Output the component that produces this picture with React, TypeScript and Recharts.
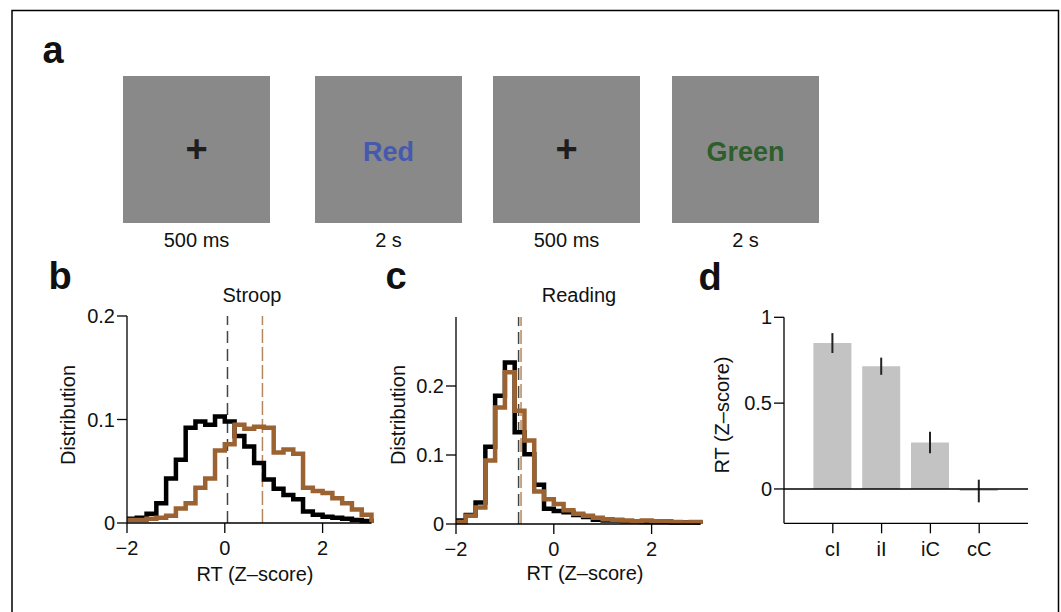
import React from 'react'
import {
  LineChart,
  Line,
  XAxis,
  YAxis,
  ReferenceLine,
  BarChart,
  Bar,
  ErrorBar,
} from 'recharts'

const FONT = "'Liberation Sans', Arial, Helvetica, sans-serif"
const BROWN = '#9c6332'
const BROWN_DASH = '#b4875d'
const FS = 20

// panel a: trial sequence
const screenText = ['+', 'Red', '+', 'Green']
const screenColor = ['#1e1e1e', '#4659ae', '#1e1e1e', '#2d5e2c']
const screenDuration = ['500 ms', '2 s', '500 ms', '2 s']

// panels b, c: RT histograms (bin left edges, width 0.2)
const binStart = [
  -2, -1.8, -1.6, -1.4, -1.2, -1, -0.8, -0.6, -0.4, -0.2, 0, 0.2, 0.4, 0.6, 0.8,
  1, 1.2, 1.4, 1.6, 1.8, 2, 2.2, 2.4, 2.6, 2.8,
]
const binEnd = 3
const stroopDark = [
  0.004, 0.005, 0.009, 0.019, 0.043, 0.061, 0.092, 0.098, 0.095, 0.103, 0.098,
  0.084, 0.074, 0.058, 0.042, 0.033, 0.027, 0.023, 0.011, 0.008, 0.006, 0.005,
  0.004, 0.003, 0.002,
]
const stroopBrown = [
  0.003, 0.003, 0.004, 0.005, 0.007, 0.014, 0.019, 0.034, 0.043, 0.07, 0.076,
  0.095, 0.091, 0.093, 0.092, 0.068, 0.071, 0.067, 0.034, 0.031, 0.029, 0.024,
  0.019, 0.013, 0.008,
]
const readingDark = [
  0.005, 0.013, 0.031, 0.112, 0.186, 0.234, 0.133, 0.101, 0.057, 0.022, 0.019,
  0.017, 0.013, 0.01, 0.006, 0.005, 0.005, 0.004, 0.004, 0.003, 0.003, 0.003,
  0.002, 0.002, 0.002,
]
const readingBrown = [
  0.003, 0.012, 0.024, 0.092, 0.169, 0.22, 0.164, 0.121, 0.047, 0.036, 0.029,
  0.02, 0.015, 0.012, 0.009, 0.007, 0.006, 0.005, 0.004, 0.005, 0.004, 0.004,
  0.003, 0.002, 0.003,
]
const stroopMeans = [0.055, 0.77]
const readingMeans = [-0.72, -0.67]
const histXTicks = [-2, 0, 2]
const histYTicks = [0, 0.1, 0.2]

// panel d: mean RT by condition
const conditions = ['cI', 'iI', 'iC', 'cC']
const rtMean = [0.85, 0.715, 0.271, -0.012]
const rtErr = [0.058, 0.05, 0.063, 0.066]
const rtYTicks = [0, 0.5, 1]

const fmt = (v: number) => (v < 0 ? `\u2212${Math.abs(v)}` : `${v}`)

const tickStyle = { fill: '#111', fontSize: FS, fontFamily: FONT }
const axisStyle = { stroke: '#000', strokeWidth: 1.3 }

interface HistProps {
  left: number
  top: number
  dark: number[]
  brown: number[]
  means: number[]
  yMax: number
}

function Histogram({ left, top, dark, brown, means, yMax }: HistProps) {
  const data = binStart.map((x, i) => ({ x, dark: dark[i], brown: brown[i] }))
  data.push({ x: binEnd, dark: dark[dark.length - 1], brown: brown[brown.length - 1] })
  data.push({ x: binEnd, dark: 0, brown: 0 })

  return (
    <div style={{ position: 'absolute', left, top }}>
      <LineChart
        width={335}
        height={270}
        data={data}
        margin={{ top: 20, right: 10.5, bottom: 13, left: 30 }}
      >
        <XAxis
          dataKey="x"
          type="number"
          domain={[-2, binEnd]}
          ticks={histXTicks}
          tickFormatter={fmt}
          tick={tickStyle}
          axisLine={axisStyle}
          tickLine={axisStyle}
          tickSize={10}
          tickMargin={8}
          height={30}
        />
        <YAxis
          type="number"
          domain={[0, yMax]}
          ticks={histYTicks}
          tickFormatter={fmt}
          tick={tickStyle}
          axisLine={axisStyle}
          tickLine={axisStyle}
          tickSize={10}
          tickMargin={2}
          width={50}
        />
        <ReferenceLine x={means[0]} stroke="#444" strokeWidth={1.5} strokeDasharray="12 6" />
        <ReferenceLine x={means[1]} stroke={BROWN_DASH} strokeWidth={1.5} strokeDasharray="14 4" />
        <Line
          dataKey="dark"
          type="stepAfter"
          stroke="#000"
          strokeWidth={4.5}
          strokeLinejoin="miter"
          dot={false}
          isAnimationActive={false}
        />
        <Line
          dataKey="brown"
          type="stepAfter"
          stroke={BROWN}
          strokeWidth={4.5}
          strokeLinejoin="miter"
          dot={false}
          isAnimationActive={false}
        />
      </LineChart>
    </div>
  )
}

function RtBars() {
  const data = conditions.map((name, i) => ({ name, mean: rtMean[i], err: rtErr[i] }))
  return (
    <div style={{ position: 'absolute', left: 725, top: 297 }}>
      <BarChart
        width={320}
        height={270}
        data={data}
        margin={{ top: 20.3, right: 17, bottom: 13.7, left: 9 }}
      >
        <XAxis
          dataKey="name"
          padding={{ left: 24.4, right: 24.4 }}
          tick={tickStyle}
          axisLine={axisStyle}
          tickLine={axisStyle}
          tickSize={10}
          tickMargin={8}
          height={30}
          interval={0}
        />
        <YAxis
          type="number"
          domain={[-0.2, 1]}
          ticks={rtYTicks}
          tickFormatter={fmt}
          tick={tickStyle}
          axisLine={axisStyle}
          tickLine={axisStyle}
          tickSize={10}
          tickMargin={2}
          width={50}
        />
        <Bar dataKey="mean" fill="#c3c3c3" barSize={38} isAnimationActive={false}>
          <ErrorBar dataKey="err" width={0} stroke="#222" strokeWidth={2} direction="y" />
        </Bar>
        <ReferenceLine y={0} stroke="#000" strokeWidth={1.4} />
      </BarChart>
    </div>
  )
}

const boxX = [123, 315, 493, 672]
const boxW = 147

export default function App() {
  return (
    <div
      style={{
        position: 'absolute',
        left: 0,
        top: 0,
        width: 1061,
        height: 612,
        background: '#fff',
        overflow: 'hidden',
        fontFamily: FONT,
      }}
    >
      <svg
        width={1061}
        height={612}
        style={{ position: 'absolute', left: 0, top: 0 }}
        fontFamily={FONT}
      >
        <path d="M12 612 V10.5 H1058.5 V612" fill="none" stroke="#000" strokeWidth={1.5} />

        <text x={42.5} y={63} fontSize={38} fontWeight="bold" fill="#111">a</text>
        <text x={48.5} y={289} fontSize={38} fontWeight="bold" fill="#111">b</text>
        <text x={385.5} y={289} fontSize={38} fontWeight="bold" fill="#111">c</text>
        <text x={698.5} y={290} fontSize={38} fontWeight="bold" fill="#111">d</text>

        {screenText.map((t, i) => (
          <g key={i}>
            <rect x={boxX[i]} y={76} width={boxW} height={147} fill="#898989" />
            <text
              x={boxX[i] + boxW / 2}
              y={t === '+' ? 162 : 160.5}
              textAnchor="middle"
              fontSize={t === '+' ? 38 : 27}
              fontWeight="bold"
              fill={screenColor[i]}
            >
              {t}
            </text>
            <text x={boxX[i] + boxW / 2} y={247} textAnchor="middle" fontSize={FS} fill="#111">
              {screenDuration[i]}
            </text>
          </g>
        ))}

        <text x={252} y={302} textAnchor="middle" fontSize={FS} fill="#111">Stroop</text>
        <text x={579} y={302} textAnchor="middle" fontSize={FS} fill="#111">Reading</text>

        <text x={255} y={581} textAnchor="middle" fontSize={FS} fill="#111">RT (Z–score)</text>
        <text x={585} y={580} textAnchor="middle" fontSize={FS} fill="#111">RT (Z–score)</text>

        <text transform="translate(75,415) rotate(-90)" textAnchor="middle" fontSize={FS} fill="#111">
          Distribution
        </text>
        <text transform="translate(405,415) rotate(-90)" textAnchor="middle" fontSize={FS} fill="#111">
          Distribution
        </text>
        <text transform="translate(729,415) rotate(-90)" textAnchor="middle" fontSize={FS} fill="#111">
          RT (Z–score)
        </text>
      </svg>

      <Histogram left={47} top={296} dark={stroopDark} brown={stroopBrown} means={stroopMeans} yMax={0.2} />
      <Histogram left={376} top={297} dark={readingDark} brown={readingBrown} means={readingMeans} yMax={0.3} />
      <RtBars />
    </div>
  )
}
